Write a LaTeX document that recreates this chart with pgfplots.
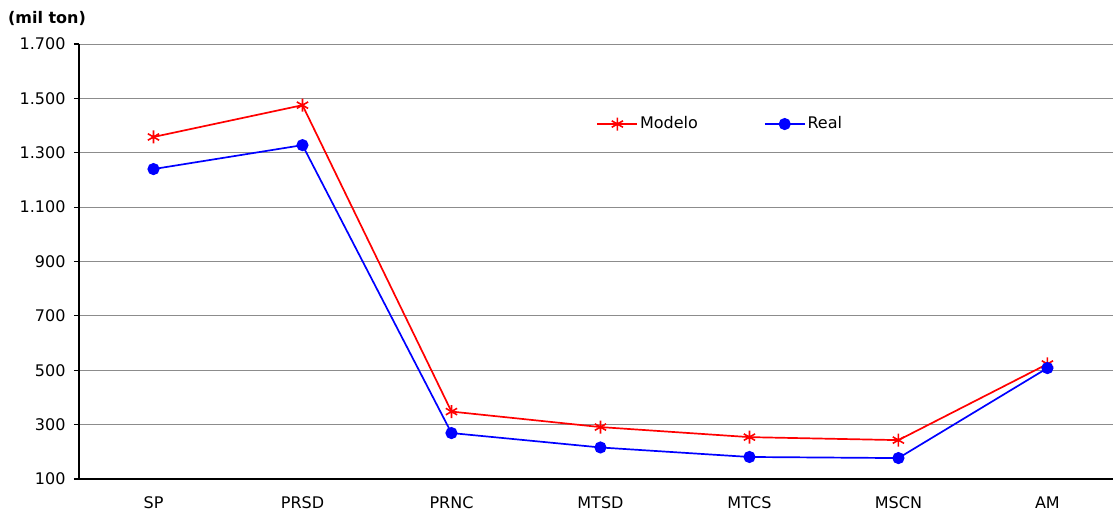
\documentclass[border=0pt]{standalone}
\usepackage{fontspec}
\setmainfont{DejaVu Sans}
\usepackage{pgfplots}
\pgfplotsset{compat=1.18}
\begin{document}
\fontsize{16pt}{19pt}\selectfont
\begin{tikzpicture}[x=1pt,y=1pt]
\useasboundingbox (0,0) rectangle (1115,512);
\begin{axis}[
  at={(79pt,33pt)}, anchor=south west,
  scale only axis, width=1034pt, height=435pt,
  xmin=-0.5, xmax=6.44, ymin=100, ymax=1700,
  xtick={0,1,2,3,4,5,6},
  xticklabels={SP,PRSD,PRNC,MTSD,MTCS,MSCN,AM},
  ytick={100,300,500,700,900,1100,1300,1500,1700},
  /pgf/number format/.cd, 1000 sep={.}, assume math mode=true,
  /pgfplots/.cd,
  axis x line*=bottom, axis y line*=left,
  axis line style={black, line width=1.3pt, -},
  ymajorgrids, grid style={gray!90, line width=0.9pt},
  x tick style={draw=none},
  y tick style={black, line width=1.1pt},
  tick align=outside, major tick length=5pt,
  yticklabel style={font=\fontsize{16pt}{19pt}\selectfont, xshift=-3pt},
  xticklabel style={font=\fontsize{16pt}{19pt}\selectfont, yshift=-7pt},
  clip=false,
  legend style={draw=none, fill=none, at={(0.4975,0.816)}, anchor=west,
    legend columns=2, font=\fontsize{16pt}{19pt}\selectfont,
    /tikz/every even column/.append style={column sep=64pt}},
  legend image code/.code={
    \draw[mark repeat=2,mark phase=2] plot coordinates {(0cm,0cm) (0.7cm,0cm) (1.4cm,0cm)};},
]
\addplot[red, line width=1.7pt, mark=asterisk, mark size=6.5pt, mark options={line width=1.6pt}]
  coordinates {(0,1358) (1,1475) (2,348) (3,291) (4,254) (5,243) (6,523)};
\addlegendentry{Modelo}
\addplot[blue, line width=1.7pt, mark=*, mark size=5.2pt]
  coordinates {(0,1240) (1,1328) (2,269) (3,216) (4,181) (5,177) (6,508)};
\addlegendentry{Real}
\node[font=\fontsize{16pt}{19pt}\selectfont\bfseries, anchor=center] at ([xshift=-32pt,yshift=26pt]rel axis cs:0,1) {(mil ton)};
\end{axis}
\end{tikzpicture}
\end{document}
